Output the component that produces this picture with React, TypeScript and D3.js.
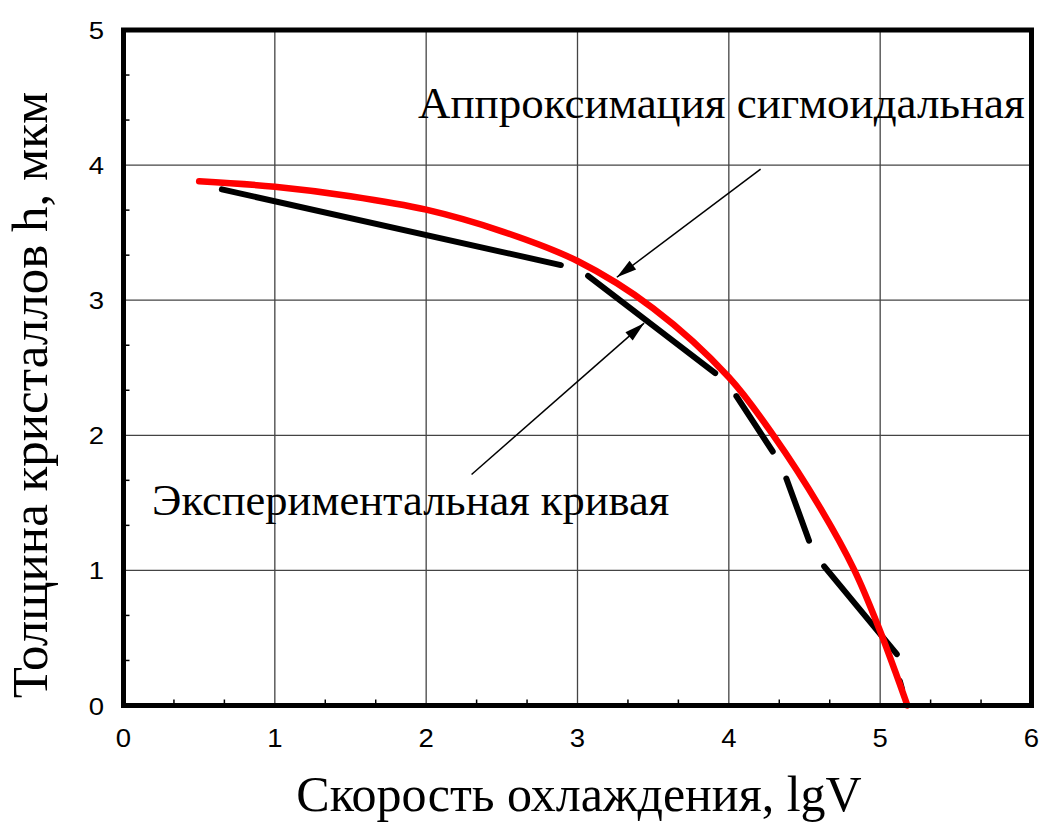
import { scaleLinear, line as d3_line, curveCatmullRom, range } from "d3";

// Аппроксимация сигмоидальная (lgV, h)
const fitLgV = [0.5, 1.0, 1.5, 2.0, 2.5, 3.0, 3.5, 4.0, 4.3, 4.6, 4.83, 5.0, 5.1, 5.18];
const fitH = [3.88, 3.84, 3.77, 3.67, 3.51, 3.29, 2.94, 2.43, 1.99, 1.47, 1.0, 0.55, 0.25, 0.0];

// Экспериментальная кривая: drawn as separate dashes [x1, h1, x2, h2]
const expDashes: [number, number, number, number][] = [
  [0.65, 3.82, 2.89, 3.26],
  [3.07, 3.18, 3.91, 2.46],
  [4.05, 2.29, 4.29, 1.88],
  [4.38, 1.68, 4.53, 1.22],
  [4.63, 1.03, 5.11, 0.38],
  [5.13, 0.18, 5.145, 0.12],
];

const xTicks = [0, 1, 2, 3, 4, 5, 6];
const yTicks = [0, 1, 2, 3, 4, 5];

// annotation arrows: from (lgV, h) to tip (lgV, h)
const arrows = [
  { from: [4.21, 3.97], to: [3.26, 3.17] },
  { from: [2.3, 1.71], to: [3.44, 2.83] },
];

const W = 1043;
const H = 823;
const margin = { left: 123.5, right: 11.5, top: 30, bottom: 117.5 };

export default function App() {
  const x = scaleLinear().domain([0, 6]).range([margin.left, W - margin.right]);
  const y = scaleLinear().domain([0, 5]).range([H - margin.bottom, margin.top]);

  const fitData = fitLgV.map((v, i) => ({ x: v, h: fitH[i] }));
  const fitPath = d3_line<{ x: number; h: number }>()
    .x((d) => x(d.x))
    .y((d) => y(d.h))
    .curve(curveCatmullRom.alpha(0.5))(fitData);

  const minorX = range(0, 18).filter((i) => i % 3 !== 0).map((i) => i / 3);
  const minorY = range(0, 15).filter((i) => i % 3 !== 0).map((i) => i / 3);

  const arrowHead = (fx: number, fy: number, tx: number, ty: number) => {
    const ang = Math.atan2(ty - fy, tx - fx);
    const len = 20;
    const half = 5.5;
    const bx = tx - len * Math.cos(ang);
    const by = ty - len * Math.sin(ang);
    const px = -Math.sin(ang) * half;
    const py = Math.cos(ang) * half;
    return `M${tx},${ty}L${bx + px},${by + py}L${bx - px},${by - py}Z`;
  };

  return (
    <svg
      width={W}
      height={H}
      style={{ position: "absolute", left: 0, top: 0, background: "#fff" }}
    >
      {/* grid */}
      {xTicks.slice(1, -1).map((t) => (
        <line key={"gx" + t} x1={x(t)} x2={x(t)} y1={y(0)} y2={y(5)} stroke="#444" strokeWidth={1.3} />
      ))}
      {yTicks.slice(1, -1).map((t) => (
        <line key={"gy" + t} x1={x(0)} x2={x(6)} y1={y(t)} y2={y(t)} stroke="#444" strokeWidth={1.3} />
      ))}

      {/* minor ticks (inside) */}
      {minorX.map((t) => (
        <line key={"mx" + t} x1={x(t)} x2={x(t)} y1={y(0)} y2={y(0) - 6} stroke="#000" strokeWidth={1.5} />
      ))}
      {minorY.map((t) => (
        <line key={"my" + t} x1={x(0)} x2={x(0) + 6} y1={y(t)} y2={y(t)} stroke="#000" strokeWidth={1.5} />
      ))}

      {/* experimental curve */}
      {expDashes.map(([x1, h1, x2, h2], i) => (
        <line
          key={"d" + i}
          x1={x(x1)}
          y1={y(h1)}
          x2={x(x2)}
          y2={y(h2)}
          stroke="#000"
          strokeWidth={6}
          strokeLinecap="round"
        />
      ))}

      {/* sigmoid fit */}
      <path d={fitPath ?? ""} fill="none" stroke="#ff0000" strokeWidth={6.5} strokeLinecap="round" />

      {/* arrows */}
      {arrows.map((a, i) => {
        const fx = x(a.from[0]);
        const fy = y(a.from[1]);
        const tx = x(a.to[0]);
        const ty = y(a.to[1]);
        return (
          <g key={"a" + i}>
            <line x1={fx} y1={fy} x2={tx} y2={ty} stroke="#000" strokeWidth={1.5} />
            <path d={arrowHead(fx, fy, tx, ty)} fill="#000" />
          </g>
        );
      })}

      {/* frame */}
      <rect
        x={x(0)}
        y={y(5)}
        width={x(6) - x(0)}
        height={y(0) - y(5)}
        fill="none"
        stroke="#000"
        strokeWidth={5}
      />

      {/* tick labels */}
      <g fontFamily="'Liberation Sans', Arial, sans-serif" fontSize={25} fill="#000">
        {xTicks.map((t) => (
          <text
            key={"xl" + t}
            transform={`translate(${x(t)},747) scale(1.1,1)`}
            textAnchor="middle"
          >
            {t}
          </text>
        ))}
        {yTicks.map((t) => (
          <text
            key={"yl" + t}
            transform={`translate(104,${y(t) + 9}) scale(1.1,0.95)`}
            textAnchor="end"
          >
            {t}
          </text>
        ))}
      </g>

      {/* annotations and axis titles */}
      <g fontFamily="'Liberation Serif', 'Times New Roman', serif" fill="#000">
        <text x={418} y={118} fontSize={45}>
          Аппроксимация сигмоидальная
        </text>
        <text x={152} y={515} fontSize={44.5}>
          Экспериментальная кривая
        </text>
        <text x={579} y={811} fontSize={50} textAnchor="middle">
          Скорость охлаждения, lgV
        </text>
        <text
          transform={`translate(47,395) rotate(-90)`}
          fontSize={51}
          textAnchor="middle"
        >
          Толщина кристаллов h, мкм
        </text>
      </g>
    </svg>
  );
}
